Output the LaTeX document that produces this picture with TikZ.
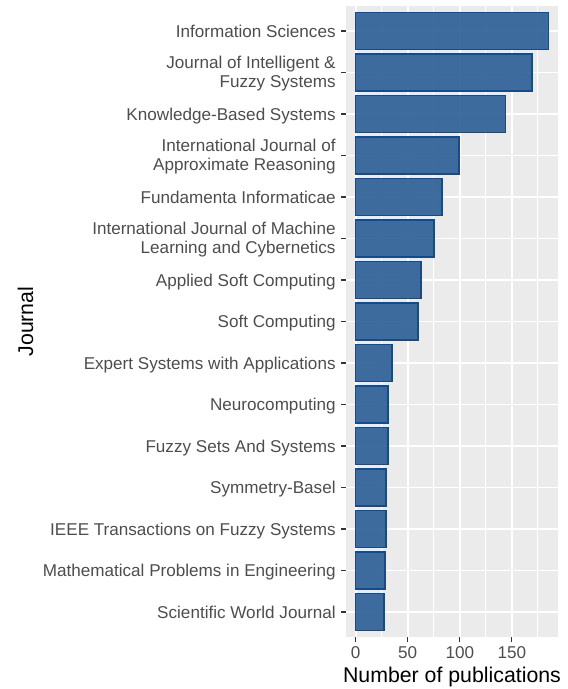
\documentclass[tikz,border=0pt]{standalone}
\usepackage{fontspec}
\setmainfont{Liberation Sans}
\definecolor{panelbg}{HTML}{EBEBEB}
\definecolor{barfill}{RGB}{43,94,149}
\definecolor{barline}{RGB}{18,76,140}
\definecolor{ticklab}{HTML}{4D4D4D}
\definecolor{tickcol}{HTML}{333333}
\begin{document}
\begin{tikzpicture}[x=1pt,y=-1pt,
  majorgrid/.style={draw=white,line width=1.9pt},
  minorgrid/.style={draw=white,line width=0.95pt},
  barbox/.style={draw=barline,fill=barfill,fill opacity=0.9,line width=1.6pt,inner sep=0pt,outer sep=0pt,anchor=west,minimum height=37.3pt},
  ylab/.style={anchor=base east,align=right,inner sep=0pt,text=ticklab,font=\fontsize{17.1}{19}\selectfont},
  xlab/.style={anchor=base,inner sep=0pt,text=ticklab,font=\fontsize{17.1}{19}\selectfont},
  axtitle/.style={anchor=base,inner sep=0pt,text=black,font=\fontsize{21.3}{24}\selectfont},
  tickmark/.style={draw=tickcol,line width=1.1pt}]
\useasboundingbox (0,0) rectangle (568,689);
% panel
\fill[panelbg] (346,6) rectangle (558,637);
% minor vertical grid
\foreach \v in {25,75,125,175}{
  \pgfmathsetmacro\xx{355.6+\v*1.042}
  \draw[minorgrid] (\xx,6) -- (\xx,637);
}
% major vertical grid, ticks and labels
\foreach \v [count=\k] in {0,50,100,150}{
  \pgfmathsetmacro\xx{355.6+\v*1.042}
  \draw[majorgrid] (\xx,6) -- (\xx,637);
  \coordinate (xt\k) at (\xx,637);
  \coordinate (xe\k) at (\xx,642.3);
  \draw[tickmark] (xt\k) -- (xe\k);
  \node[xlab] (xl\k) at (\xx,658.3) {\v};
}
% horizontal grid, bars, y ticks and labels
\foreach \v/\off/\t [count=\i] in {
  185/6.2/{Information Sciences},
  169/15.2/{Journal of Intelligent \&\\Fuzzy Systems},
  144/6.2/{Knowledge-Based Systems},
  99/15.2/{International Journal of\\Approximate Reasoning},
  83/6.2/{Fundamenta Informaticae},
  75/15.2/{International Journal of Machine\\Learning and Cybernetics},
  63/6.2/{Applied Soft Computing},
  60/6.2/{Soft Computing},
  35/6.2/{Expert Systems with Applications},
  31/6.2/{Neurocomputing},
  31/6.2/{Fuzzy Sets And Systems},
  29/6.2/{Symmetry-Basel},
  29/6.2/{IEEE Transactions on Fuzzy Systems},
  28/6.2/{Mathematical Problems in Engineering},
  27/6.2/{Scientific World Journal}}{
  \pgfmathsetmacro\yy{31+(\i-1)*41.5}
  \pgfmathsetmacro\ww{\v*1.042}
  \draw[majorgrid] (346,\yy) -- (558,\yy);
  \coordinate (yt\i) at (346,\yy);
  \coordinate (ye\i) at (340.7,\yy);
  \draw[tickmark] (yt\i) -- (ye\i);
  \node[barbox,minimum width=\ww pt] (b\i) at (355.6,\yy) {};
  \node[ylab] (l\i) at (335.8,\yy+\off) {\t};
}
% axis titles
\node[axtitle] (xtitle) at (452,682) {Number of publications};
\node[axtitle,rotate=90] (ytitle) at (33,321.5) {Journal};
\end{tikzpicture}
\end{document}
